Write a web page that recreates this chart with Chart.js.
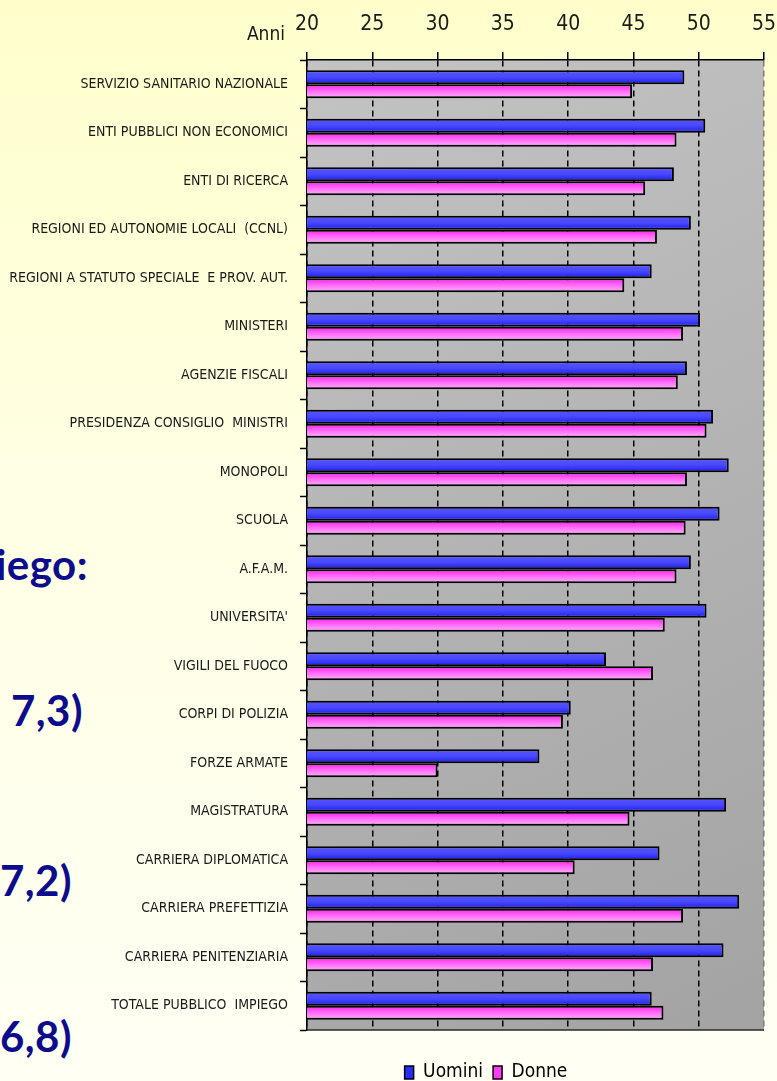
<!DOCTYPE html>
<html lang="it">
<head>
<meta charset="utf-8">
<title>Età media per comparto - Uomini e Donne</title>
<script src="https://cdn.jsdelivr.net/npm/chart.js@4.4.1/dist/chart.umd.min.js"></script>
<style>
  html, body { margin: 0; padding: 0; }
  body {
    width: 777px; height: 1081px; overflow: hidden; position: relative;
    background: linear-gradient(to bottom, #ffffcc 0%, #ffffe4 45%, #fffff4 100%);
  }
  .frag {
    position: absolute; white-space: nowrap; line-height: 1; letter-spacing: 0.5px;
    font: bold 42px Lato, "Open Sans", sans-serif; color: #0c0c8c;
  }
  #wrap { position: absolute; left: 0; top: 0; width: 777px; height: 1081px; }
</style>
</head>
<body>
<div class="frag" style="right:689px; top:539px;">iego:</div>
<div class="frag" style="right:694px; top:685px;">7,3)</div>
<div class="frag" style="right:705px; top:855px;">7,2)</div>
<div class="frag" style="right:705px; top:1011px;">6,8)</div>
<div id="wrap"><canvas id="grafico"></canvas></div>
<script>
  // Dati
  const categorie = [
    "SERVIZIO SANITARIO NAZIONALE",
    "ENTI PUBBLICI NON ECONOMICI",
    "ENTI DI RICERCA",
    "REGIONI ED AUTONOMIE LOCALI  (CCNL)",
    "REGIONI A STATUTO SPECIALE  E PROV. AUT.",
    "MINISTERI",
    "AGENZIE FISCALI",
    "PRESIDENZA CONSIGLIO  MINISTRI",
    "MONOPOLI",
    "SCUOLA",
    "A.F.A.M.",
    "UNIVERSITA'",
    "VIGILI DEL FUOCO",
    "CORPI DI POLIZIA",
    "FORZE ARMATE",
    "MAGISTRATURA",
    "CARRIERA DIPLOMATICA",
    "CARRIERA PREFETTIZIA",
    "CARRIERA PENITENZIARIA",
    "TOTALE PUBBLICO  IMPIEGO"
  ];
  const uomini = [48.9, 50.5, 48.1, 49.4, 46.4, 50.1, 49.1, 51.1, 52.3, 51.6,
                  49.4, 50.6, 42.9, 40.2, 37.8, 52.1, 47.0, 53.1, 51.9, 46.4];
  const donne = [44.9, 48.3, 45.9, 46.8, 44.3, 48.8, 48.4, 50.6, 49.1, 49.0,
                 48.3, 47.4, 46.5, 39.6, 30.0, 44.7, 40.5, 48.8, 46.5, 47.3];
  const tickAnni = [20, 25, 30, 35, 40, 45, 50, 55];
  const serieNomi = ["Uomini", "Donne"];

  const NARROW = '"Liberation Sans Narrow", "Arial Narrow", "DejaVu Sans Condensed", sans-serif';
  const CAT_PCT = 0.58;
  const bluStops = ["#5656ff", "#4848ff", "#1c1cea"];
  const rosaStops = ["#ff1ef0", "#ff6ef6", "#ffb4ff"];

  // gradient fill for each bar, computed from the y scale
  function riempimento(stops, sotto) {
    return function (c) {
      const chart = c.chart;
      const y = chart.scales.y;
      if (!chart.chartArea || !y || c.type !== "data") return stops[1];
      const centro = y.getPixelForValue(c.dataIndex);
      const meta = Math.abs(y.getPixelForValue(1) - y.getPixelForValue(0)) * CAT_PCT / 2;
      const y0 = sotto ? centro : centro - meta;
      const g = chart.ctx.createLinearGradient(0, y0, 0, y0 + meta);
      stops.forEach(function (col, k) { g.addColorStop(k / (stops.length - 1), col); });
      return g;
    };
  }

  // Plot background, frame and "Anni" label
  const sfondo = {
    id: "sfondo",
    beforeDraw(chart) {
      const a = chart.chartArea, ctx = chart.ctx;
      const g = ctx.createLinearGradient(a.left, a.top, a.right, a.bottom);
      g.addColorStop(0, "#c3c3c3");
      g.addColorStop(1, "#a3a3a3");
      ctx.save();
      ctx.fillStyle = g;
      ctx.fillRect(a.left, a.top, a.right - a.left, a.bottom - a.top);
      ctx.restore();
    },
    beforeDatasetsDraw(chart) {
      const a = chart.chartArea, ctx = chart.ctx;
      ctx.save();
      ctx.strokeStyle = "#2a2a2a";
      ctx.lineWidth = 1.5;
      ctx.beginPath();
      ctx.moveTo(a.left, a.bottom);
      ctx.lineTo(a.right, a.bottom);
      ctx.stroke();
      ctx.restore();
    },
    afterLayout(chart) {
      // move the legend under the bars as in the slide
      const lg = chart.legend;
      const w = lg.right - lg.left;
      lg.left = 486 - w / 2;
      lg.right = 486 + w / 2;
      lg.top += 23;
      lg.bottom += 23;
    },
    afterDraw(chart) {
      const ctx = chart.ctx;
      ctx.save();
      ctx.font = "19px " + NARROW;
      ctx.fillStyle = "#1a1a1a";
      ctx.textAlign = "right";
      ctx.textBaseline = "alphabetic";
      ctx.fillText("Anni", 285, 40);
      ctx.restore();
    }
  };

  new Chart(document.getElementById("grafico"), {
    type: "bar",
    data: {
      labels: categorie,
      datasets: [
        {
          label: serieNomi[0],
          data: uomini,
          backgroundColor: riempimento(bluStops, false),
          borderColor: "#000",
          borderWidth: 2,
          categoryPercentage: CAT_PCT,
          barPercentage: 1.0
        },
        {
          label: serieNomi[1],
          data: donne,
          backgroundColor: riempimento(rosaStops, true),
          borderColor: "#000",
          borderWidth: 2,
          categoryPercentage: CAT_PCT,
          barPercentage: 1.0
        }
      ]
    },
    options: {
      indexAxis: "y",
      responsive: true,
      maintainAspectRatio: false,
      animation: false,
      events: [],
      layout: { padding: { left: 0, right: 13, top: 0, bottom: 12 } },
      scales: {
        x: {
          position: "top",
          min: 20,
          max: 55,
          afterBuildTicks: function (s) {
            s.ticks = tickAnni.map(function (v) { return { value: v }; });
          },
          ticks: { font: { family: NARROW, size: 21 }, color: "#1a1a1a", padding: 15 },
          grid: {
            color: function (c) { return c.tick && c.tick.value === 55 ? "#7a7a7a" : "#000"; },
            lineWidth: 1.5,
            tickLength: 8,
            tickColor: "#000",
            tickWidth: 1.5,
            tickBorderDash: []
          },
          border: { display: true, color: "#000", width: 1.5, dash: [6, 4] },
          afterFit: function (s) {
            s.height = 60;
            s.paddingLeft = 0;
            s.paddingRight = 0;
          }
        },
        y: {
          offset: true,
          ticks: { font: { family: NARROW, size: 14 }, color: "#1a1a1a", padding: 12, autoSkip: false },
          grid: {
            offset: true,
            drawOnChartArea: false,
            tickLength: 7,
            tickColor: "#000",
            tickWidth: 1.5,
            color: "#000"
          },
          border: { display: true, color: "#000", width: 1.5 },
          afterFit: function (s) { s.width = 307; }
        }
      },
      plugins: {
        tooltip: { enabled: false },
        legend: {
          position: "bottom",
          labels: {
            font: { family: NARROW, size: 19 },
            color: "#1a1a1a",
            boxWidth: 9,
            boxHeight: 13,
            padding: 10,
            generateLabels: function () {
              const fill = ["#2b2bff", "#ff3cf4"];
              return serieNomi.map(function (n, i) {
                return { text: n, fillStyle: fill[i], strokeStyle: "#000", lineWidth: 1.5, datasetIndex: i, hidden: false };
              });
            }
          }
        }
      }
    },
    plugins: [sfondo]
  });
</script>
</body>
</html>
